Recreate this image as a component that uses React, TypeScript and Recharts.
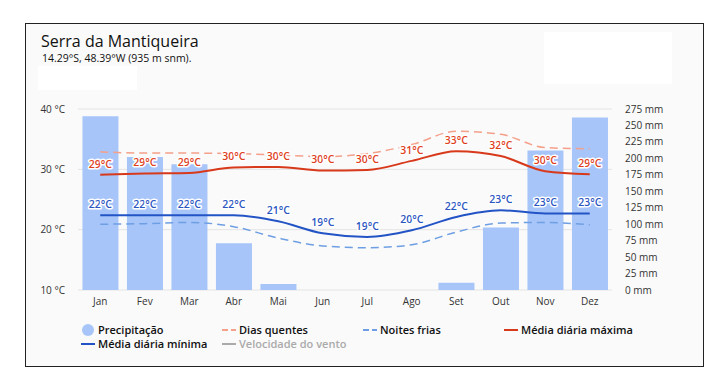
import React from "react"
import { ComposedChart, Bar, Line, XAxis, YAxis, CartesianGrid } from "recharts"

const months = ["Jan", "Fev", "Mar", "Abr", "Mai", "Jun", "Jul", "Ago", "Set", "Out", "Nov", "Dez"]
const precipitation = [264, 202, 191, 71, 9, 0, 0, 0, 11, 95, 212, 262]
const maxDaily = [29.1, 29.3, 29.4, 30.3, 30.4, 29.8, 29.9, 31.4, 33.0, 32.2, 29.7, 29.2]
const minDaily = [22.4, 22.4, 22.4, 22.4, 21.4, 19.4, 18.8, 19.9, 22.1, 23.2, 22.7, 22.7]
const hotDays = [32.9, 32.7, 32.7, 32.6, 32.4, 32.1, 32.6, 34.1, 36.3, 35.8, 33.6, 33.4]
const coldNights = [20.9, 21.0, 21.2, 20.5, 18.6, 17.3, 17.0, 17.5, 19.6, 21.1, 21.2, 20.8]
const tempTicks = [10, 20, 30, 40]
const precipTicks = [0, 25, 50, 75, 100, 125, 150, 175, 200, 225, 250, 275]

const data = months.map((month, i) => ({
  month,
  precip: precipitation[i],
  max: maxDaily[i],
  min: minDaily[i],
  hot: hotDays[i],
  cold: coldNights[i],
}))

const FONT = "'Open Sans', sans-serif"
const BAR = "#a7c5f9"
const RED = "#d8391b"
const RED_LIGHT = "#f4a08a"
const BLUE = "#2354c6"
const BLUE_LIGHT = "#6f9fe3"

const tempLabel = (color: string) => (props: any) => {
  const { x, y, value, index } = props
  if (x == null || y == null) return null
  return (
    <text
      key={index}
      x={x}
      y={y - 10}
      textAnchor="middle"
      dominantBaseline="middle"
      fontSize={10.5}
      fontFamily={FONT}
      fontWeight={600}
      fill={color}
      stroke="#fff"
      strokeWidth={3}
      strokeLinejoin="round"
      paintOrder="stroke"
    >
      {Math.round(value)}°C
    </text>
  )
}

const legendItems = [
  { name: "Precipitação", kind: "dot", color: BAR },
  { name: "Dias quentes", kind: "dash", color: RED_LIGHT },
  { name: "Noites frias", kind: "dash", color: BLUE_LIGHT },
  { name: "Média diária máxima", kind: "line", color: RED },
  { name: "Média diária mínima", kind: "line", color: BLUE },
  { name: "Velocidade do vento", kind: "line", color: "#aaa", muted: true },
]

function LegendIcon({ kind, color }: { kind: string; color: string }) {
  return (
    <svg width={14} height={12} style={{ marginRight: 3, flex: "none" }}>
      {kind === "dot" && <circle cx={7} cy={6} r={6} fill={color} />}
      {kind === "dash" && <line x1={0} y1={6} x2={14} y2={6} stroke={color} strokeWidth={2} strokeDasharray="6 3" />}
      {kind === "line" && <line x1={0} y1={6} x2={14} y2={6} stroke={color} strokeWidth={2} />}
    </svg>
  )
}

export default function App() {
  return (
    <div
      style={{
        position: "absolute",
        left: 25,
        top: 23,
        width: 679,
        height: 344,
        boxSizing: "border-box",
        border: "1px solid #222",
        background: "#fafafa",
        fontFamily: FONT,
        color: "#111",
      }}
    >
      <div style={{ position: "absolute", left: 15, top: 10, fontSize: 16, lineHeight: "14px", whiteSpace: "nowrap" }}>
        Serra da Mantiqueira
      </div>
      <div style={{ position: "absolute", left: 16, top: 29, fontSize: 10.5, lineHeight: "11px", whiteSpace: "nowrap" }}>
        14.29°S, 48.39°W (935 m snm).
      </div>
      <div style={{ position: "absolute", left: 12, top: 42, width: 99, height: 24, background: "#fff" }} />
      <div style={{ position: "absolute", left: 518, top: 8, width: 128, height: 52, background: "#fff" }} />

      <ComposedChart
        width={677}
        height={342}
        data={data}
        margin={{ top: 85, right: 0, bottom: 46, left: 0 }}
        barCategoryGap="10%"
      >
        <CartesianGrid yAxisId="temp" vertical={false} stroke="#e4e4e4" />
        <XAxis
          dataKey="month"
          height={30}
          axisLine={false}
          tickLine={false}
          tick={{ fontSize: 10, fill: "#333", fontFamily: FONT }}
          interval={0}
        />
        <YAxis
          yAxisId="temp"
          orientation="left"
          width={52}
          domain={[10, 40]}
          ticks={tempTicks}
          interval={0}
          axisLine={false}
          tickLine={false}
          tickMargin={7}
          tickFormatter={(v) => `${v} °C`}
          tick={{ fontSize: 10, fill: "#333", fontFamily: FONT }}
        />
        <YAxis
          yAxisId="precip"
          orientation="right"
          width={91}
          domain={[0, 275]}
          ticks={precipTicks}
          interval={0}
          axisLine={false}
          tickLine={false}
          tickMargin={7}
          tickFormatter={(v) => `${v} mm`}
          tick={{ fontSize: 10, fill: "#333", fontFamily: FONT, textAnchor: "start" }}
        />
        <Bar yAxisId="precip" dataKey="precip" fill={BAR} isAnimationActive={false} />
        <Line
          yAxisId="temp"
          type="monotone"
          dataKey="hot"
          stroke={RED_LIGHT}
          strokeWidth={1.5}
          strokeDasharray="8 5"
          dot={false}
          activeDot={false}
          isAnimationActive={false}
        />
        <Line
          yAxisId="temp"
          type="monotone"
          dataKey="cold"
          stroke={BLUE_LIGHT}
          strokeWidth={1.5}
          strokeDasharray="8 5"
          dot={false}
          activeDot={false}
          isAnimationActive={false}
        />
        <Line
          yAxisId="temp"
          type="monotone"
          dataKey="max"
          stroke={RED}
          strokeWidth={2}
          dot={false}
          activeDot={false}
          label={tempLabel("#e0401c")}
          isAnimationActive={false}
        />
        <Line
          yAxisId="temp"
          type="monotone"
          dataKey="min"
          stroke={BLUE}
          strokeWidth={2}
          dot={false}
          activeDot={false}
          label={tempLabel("#2b55bf")}
          isAnimationActive={false}
        />
      </ComposedChart>

      <div
        style={{
          position: "absolute",
          left: 55,
          top: 300,
          width: 564,
          display: "grid",
          gridTemplateColumns: "141px 141px 141px 141px",
          rowGap: 2,
          fontSize: 11,
          fontWeight: 600,
          lineHeight: "12px",
        }}
      >
        {legendItems.map((item) => (
          <div key={item.name} style={{ display: "flex", alignItems: "center", whiteSpace: "nowrap", color: item.muted ? "#aaa" : "#111" }}>
            <LegendIcon kind={item.kind} color={item.color} />
            {item.name}
          </div>
        ))}
      </div>
    </div>
  )
}
